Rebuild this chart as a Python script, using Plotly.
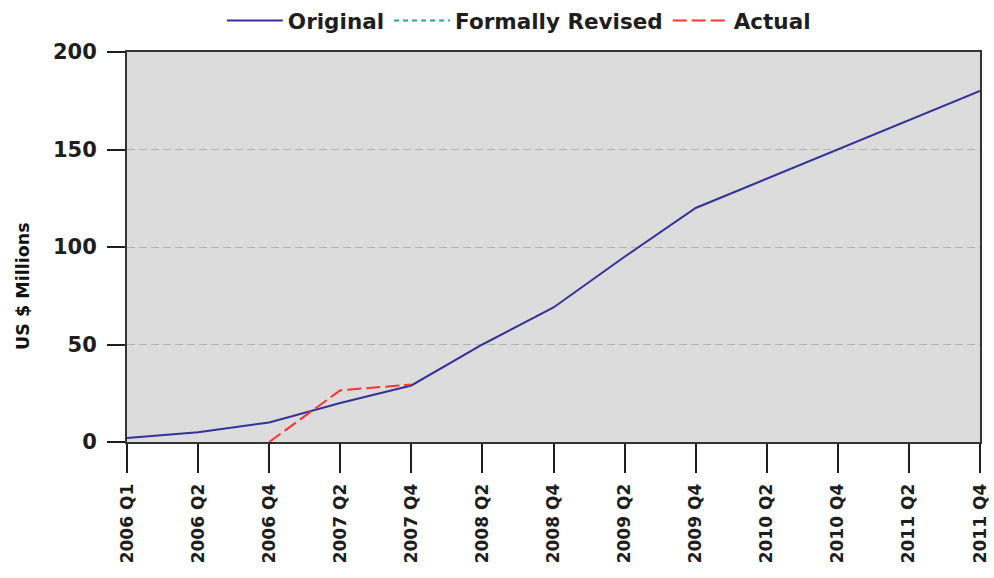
import plotly.graph_objects as go

quarters = ["2006 Q1", "2006 Q2", "2006 Q4", "2007 Q2", "2007 Q4", "2008 Q2",
            "2008 Q4", "2009 Q2", "2009 Q4", "2010 Q2", "2010 Q4", "2011 Q2", "2011 Q4"]
original = [2, 5, 10, 20, 29, 50, 69, 95, 120, 135, 150, 165, 180]
revised = [None] * len(quarters)
actual_quarters = ["2006 Q4", "2007 Q2", "2007 Q4"]
actual = [0, 26.5, 29.5]

font_family = "DejaVu Sans"
ink = "#1e1e1e"

fig = go.Figure()
fig.add_trace(go.Scatter(x=quarters, y=original, mode="lines", name="Original",
                         line=dict(color="#333399", width=2)))
fig.add_trace(go.Scatter(x=quarters, y=revised, mode="lines", name="Formally Revised",
                         line=dict(color="#2aa0a0", width=2, dash="5px,4px")))
fig.add_trace(go.Scatter(x=actual_quarters, y=actual, mode="lines", name="Actual",
                         line=dict(color="#ff3333", width=2, dash="14px,5px")))

fig.update_layout(
    width=994, height=578,
    margin=dict(l=127, r=14, t=52, b=136, autoexpand=False),
    paper_bgcolor="white",
    plot_bgcolor="#dcdcdc",
    font=dict(family=font_family, color=ink),
    showlegend=True,
    legend=dict(orientation="h", xref="container", x=0.522, xanchor="center",
                yref="container", y=1.0, yanchor="top",
                itemwidth=56,
                font=dict(size=21.5, family=font_family, weight="bold", color=ink),
                bgcolor="rgba(0,0,0,0)"),
)

fig.update_xaxes(
    type="category", categoryorder="array", categoryarray=quarters,
    range=[0, len(quarters) - 1],
    showline=True, linecolor="#333333", linewidth=2, mirror=True,
    ticks="outside", ticklen=29, tickwidth=2, tickcolor=ink,
    ticklabelstandoff=4,
    tickangle=-90, showgrid=False, zeroline=False,
    tickfont=dict(size=17, family=font_family, weight="bold", color=ink),
)
fig.update_yaxes(
    range=[0, 200], tickvals=[0, 50, 100, 150, 200],
    showline=True, linecolor="#333333", linewidth=2, mirror=True,
    ticks="outside", ticklen=18, tickwidth=2, tickcolor=ink,
    ticklabelstandoff=6,
    showgrid=True, gridcolor="#b4b4b4", griddash="8px,4px", gridwidth=1,
    zeroline=False,
    tickfont=dict(size=21, family=font_family, weight="bold", color=ink),
)

# vertical axis caption, placed left of the tick labels
fig.add_annotation(text="US $ Millions", xref="paper", yref="paper",
                   x=-0.122, y=0.40, xanchor="center", yanchor="middle",
                   textangle=-90, showarrow=False,
                   font=dict(size=17.5, family=font_family, weight="bold", color="#111111"))

fig.write_html("out.html")
